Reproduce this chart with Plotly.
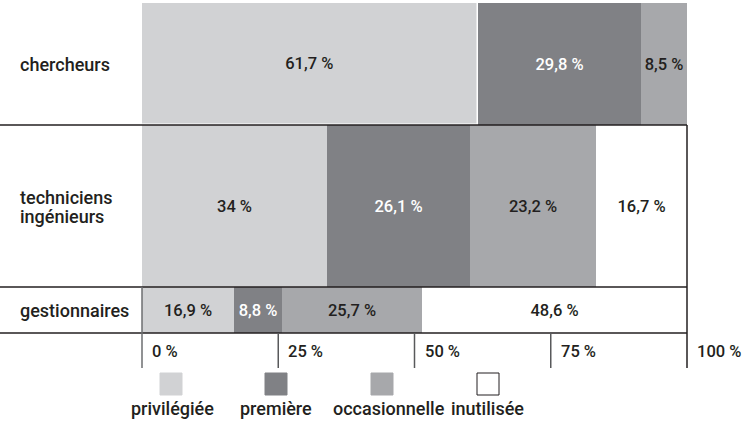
import plotly.graph_objects as go

# rows (top to bottom) and their relative heights
groups = ["chercheurs", "techniciens<br>ingénieurs", "gestionnaires"]
group_sizes = [122, 162, 46]

# usage categories
categories = ["privilégiée", "première", "occasionnelle", "inutilisée"]
colors = ["#d1d2d4", "#808185", "#a7a8ab", "#ffffff"]
text_colors = ["#231f20", "#ffffff", "#231f20", "#231f20"]

# share (%) per group for each category
privilegiee = [61.7, 34.0, 16.9]
premiere = [29.8, 26.1, 8.8]
occasionnelle = [8.5, 23.2, 25.7]
inutilisee = [0.0, 16.7, 48.6]
series = [privilegiee, premiere, occasionnelle, inutilisee]

ticks = [0, 25, 50, 75, 100]

FONT = "Roboto, Liberation Sans, sans-serif"
INK = "#231f20"
FS_NUM = 16.5
FS_TXT = 18

# row positions from heights
tops, centers = [], []
acc = 0
for h in group_sizes:
    tops.append(acc)
    centers.append(acc + h / 2)
    acc += h
bottom = acc


def fmt(v):
    if v == 0:
        return ""
    s = f"{v:.1f}".replace(".", ",")
    if s.endswith(",0"):
        s = s[:-2]
    return s + " %"


fig = go.Figure()
base = [0.0] * len(groups)
for i, (name, vals) in enumerate(zip(categories, series)):
    line_w = [1.5, 0, 0] if i == 0 else [0, 0, 0]
    fig.add_trace(go.Bar(
        name=name,
        orientation="h",
        y=centers,
        x=vals,
        base=base[:],
        width=group_sizes,
        marker=dict(color=colors[i], line=dict(color="white", width=line_w)),
        text=[fmt(v) for v in vals],
        textposition="inside",
        insidetextanchor="middle",
        textangle=0,
        textfont=dict(family=FONT, size=FS_NUM, color=text_colors[i], weight=500),
        showlegend=False,
        hoverinfo="skip",
    ))
    base = [b + v for b, v in zip(base, vals)]

# pixel-to-data helpers for layout elements (1 y unit = 1 px)
PX = 5.45
X0 = 142


def xd(p):
    return (p - X0) / PX


shapes = []
line = dict(color=INK, width=1.5)
# horizontal row separators
for y in [tops[1], tops[2], bottom]:
    shapes.append(dict(type="line", xref="x", yref="y", x0=xd(0), x1=100, y0=y, y1=y, line=line, layer="above"))
# right frame and ticks
shapes.append(dict(type="line", xref="x", yref="y", x0=100, x1=100, y0=tops[1], y1=bottom + 35, line=line, layer="above"))
shapes.append(dict(type="line", xref="x", yref="y", x0=0, x1=0, y0=tops[2], y1=bottom + 35,
                   line=dict(color="#6d6e71", width=1.5), layer="above"))
for t in ticks[1:-1]:
    shapes.append(dict(type="line", xref="x", yref="y", x0=t, x1=t, y0=bottom, y1=bottom + 35,
                       line=dict(color="#58595b", width=1.5), layer="above"))

annotations = []
for g, c in zip(groups, centers):
    parts = g.split("<br>")
    offsets = [0] if len(parts) == 1 else [-9, 10]
    for part, off in zip(parts, offsets):
        annotations.append(dict(x=xd(18), y=c + off, xref="x", yref="y", text=part, showarrow=False,
                                xanchor="left", yanchor="middle", align="left",
                                font=dict(family=FONT, size=FS_TXT, color=INK, weight=500)))
for t in ticks:
    annotations.append(dict(x=t + 8 / PX, y=bottom + 18, xref="x", yref="y", text=f"{t} %", showarrow=False,
                            xanchor="left", yanchor="middle",
                            font=dict(family=FONT, size=FS_NUM, color=INK, weight=500)))

# legend: swatch above label
sw_left = [160, 265, 371, 477]
lab_center = [172, 276, 389, 487]
for i, name in enumerate(categories):
    shapes.append(dict(type="rect", xref="x", yref="y", x0=xd(sw_left[i]), x1=xd(sw_left[i] + 22),
                       y0=bottom + 40, y1=bottom + 62, fillcolor=colors[i],
                       line=dict(color=INK if i == 3 else colors[i], width=1)))
    annotations.append(dict(x=xd(lab_center[i]), y=bottom + 75, xref="x", yref="y", text=name, showarrow=False,
                            xanchor="center", yanchor="middle",
                            font=dict(family=FONT, size=FS_TXT, color=INK, weight=500)))

fig.update_layout(
    width=749,
    height=424,
    margin=dict(l=0, r=0, t=0, b=0),
    paper_bgcolor="white",
    plot_bgcolor="white",
    barmode="overlay",
    bargap=0,
    uniformtext=dict(minsize=FS_NUM, mode="show"),
    xaxis=dict(range=[xd(0), xd(749)], visible=False, fixedrange=True),
    yaxis=dict(range=[421, -3], visible=False, fixedrange=True),
    shapes=shapes,
    annotations=annotations,
)

# drop the default page margin so the figure sits at the window's corner
fig.write_html("out.html", config={"displayModeBar": False},
               post_script="document.body.style.margin='0';document.body.style.overflow='hidden';")
